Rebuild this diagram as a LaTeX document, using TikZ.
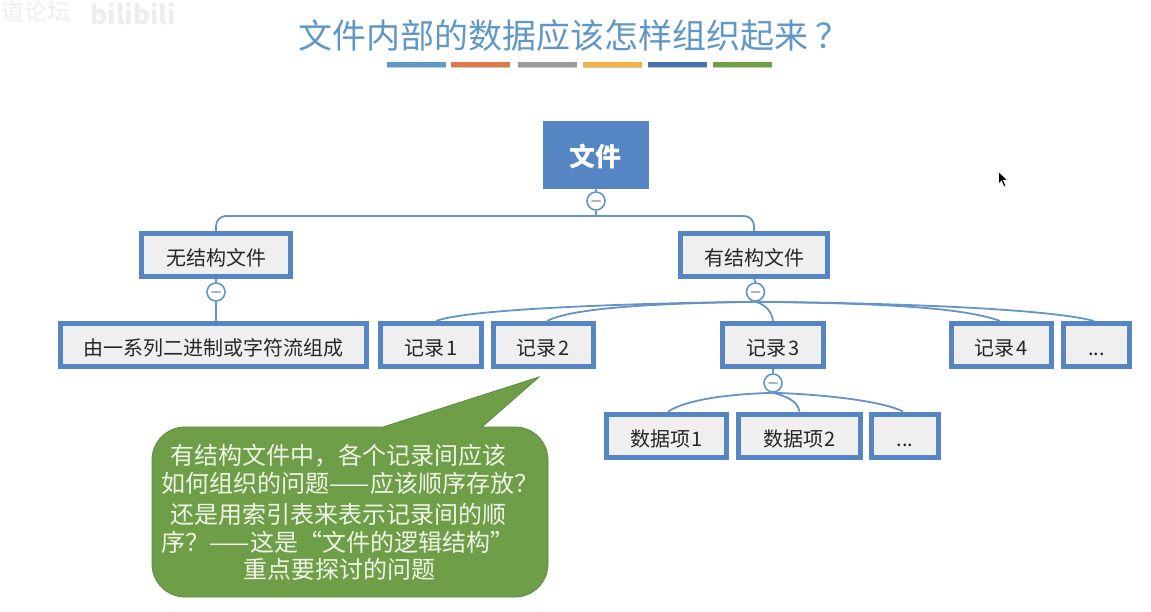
\documentclass[tikz,border=0pt]{standalone}
\usepackage{fontspec}
\setmainfont{Noto Sans CJK SC}
\usetikzlibrary{calc}
\definecolor{boxblue}{HTML}{5585C2}
\definecolor{linkblue}{HTML}{6394C8}
\definecolor{boxfill}{HTML}{EFEFEF}
\definecolor{titleblue}{HTML}{5F97C6}
\definecolor{calloutgreen}{HTML}{6F9E48}
\definecolor{calloutedge}{HTML}{5E8A3C}
\definecolor{calloutink}{HTML}{EFF5E6}
\definecolor{markgrey}{HTML}{A9B4C6}
\tikzset{
  rootbox/.style={rectangle,fill=boxblue,draw=boxblue,line width=0.5pt,minimum width=105pt,minimum height=67pt,inner sep=0pt,text=white,text height=25pt,text depth=0pt,font=\bfseries\fontsize{26}{30}\selectfont},
  itembox/.style={rectangle,fill=boxfill,draw=boxblue,line width=5pt,minimum height=43pt,inner sep=0pt,text=black!85,text height=21pt,text depth=0pt,font=\fontsize{20}{24}\selectfont},
  toggle/.style={circle,draw=linkblue,fill=white,line width=1.6pt,minimum size=18pt,inner sep=0pt,
    path picture={\draw[markgrey,line width=2pt,line cap=round] ([xshift=-4pt]path picture bounding box.center) -- ([xshift=4pt]path picture bounding box.center);}},
  link/.style={draw=linkblue,line width=1.8pt},
  calloutline/.style={inner sep=0pt,text=calloutink,font=\fontsize{24}{28}\selectfont},
  titlebar/.style={rectangle,minimum width=59pt,minimum height=5pt,inner sep=0pt},
  watermark/.style={inner sep=0pt,text=black!7},
}
\begin{document}
\begin{tikzpicture}[x=1pt,y=-1pt]
\useasboundingbox (0,0) rectangle (1151,612);
% watermark
\node[watermark,font=\fontsize{23}{26}\selectfont] (wm1) at (36,12) {道论坛};
\node[watermark,font=\bfseries\fontsize{26}{28}\selectfont] (wm2) at (133,14) {bilibili};
% title
\node[inner sep=0pt,text=titleblue,font=\fontsize{34}{38}\selectfont] (title) at (574,36) {文件内部的数据应该怎样组织起来\kern8pt？};
\foreach \n/\x/\c in {a/416.5/5B9BCB,b/480.5/DE7A45,c/547/9A9A9A,d/612/F2B143,e/677/4472B0,f/742.5/70A044}{
  \definecolor{barc}{HTML}{\c}
  \node[titlebar,fill=black!22] (bs\n) at (\x,66) {};
  \node[titlebar,fill=barc] (bar\n) at (\x,64.5) {};
}
% nodes
\node[rootbox] (root) at (595.5,154.5) {文件};
\node[itembox,minimum width=149pt] (unstr) at (216,255) {无结构文件};
\node[itembox,minimum width=147pt] (str) at (754,255) {有结构文件};
\node[itembox,minimum width=306pt] (stream) at (213.5,345) {由一系列二进制或字符流组成};
\node[itembox,minimum width=101pt] (r1) at (431,345) {记录\kern2pt 1};
\node[itembox,minimum width=100pt] (r2) at (543.5,345) {记录\kern2pt 2};
\node[itembox,minimum width=101pt] (r3) at (773,345) {记录\kern2pt 3};
\node[itembox,minimum width=100pt] (r4) at (1001.5,345) {记录\kern2pt 4};
\node[itembox,minimum width=66pt] (rx) at (1096.5,345) {...};
\node[itembox,minimum width=120pt] (d1) at (666.5,435.5) {数据项\kern1pt 1};
\node[itembox,minimum width=122pt] (d2) at (799.5,435.5) {数据项\kern1pt 2};
\node[itembox,minimum width=67pt] (dx) at (905,435.5) {...};
% toggles
\node[toggle] (t0) at (596,201) {};
\node[toggle] (t1) at (216,292) {};
\node[toggle] (t2) at (755.5,292) {};
\node[toggle] (t3) at (773,383) {};
% connectors
\draw[link] (root.south) -- (t0.north);
\draw[link,rounded corners=10pt] (unstr.north) -- (unstr.north |- 0,216) -- (str.north |- 0,216) -- (str.north);
\draw[link] (t0.south) -- (t0.south |- 0,216);
\draw[link] (unstr.south) -- (t1.north);
\draw[link] (t1.south) -- (stream.north -| t1.south);
\draw[link] (str.south) -- (t2.north);
\draw[link] (t2.south) .. controls (650,303) and (470,308) .. ($(r1.north)+(5,0)$);
\draw[link] (t2.south) .. controls (680,303) and (575,306) .. ($(r2.north)+(3.5,0)$);
\draw[link] (t2.south) .. controls (765,304) and (772,312) .. (r3.north);
\draw[link] (t2.south) .. controls (860,303) and (960,306) .. ($(r4.north)+(-1.5,0)$);
\draw[link] (t2.south) .. controls (900,303) and (1050,309) .. ($(rx.north)+(-2.5,0)$);
\draw[link] (r3.south) -- (t3.north);
\draw[link] (t3.south) .. controls (735,394) and (690,398) .. ($(d1.north)+(1.5,0)$);
\draw[link] (t3.south) .. controls (785,396) and (797,400) .. (d2.north);
\draw[link] (t3.south) .. controls (815,394) and (880,400) .. ($(dx.north)+(-2,0)$);
% callout
\coordinate (tip) at (539,377);
\fill[calloutgreen,draw=calloutedge,line width=0.8pt]
  (482,427) -- (515,427) arc[start angle=-90,end angle=0,radius=33] -- (548,564)
  arc[start angle=0,end angle=90,radius=33] -- (185,597)
  arc[start angle=90,end angle=180,radius=33] -- (152,460)
  arc[start angle=180,end angle=270,radius=33] -- (383,427) -- (tip) -- cycle;
\node[calloutline] (c1) at (338.5,456) {有结构文件中，各个记录间应该};
\node[calloutline] (c2) at (350,483) {如何组织的问题——应该顺序存放？};
\node[calloutline] (c3) at (338,514) {还是用索引表来表示记录间的顺};
\node[calloutline] (c4) at (338,542) {序？——这是“文件的逻辑结构”};
\node[calloutline] (c5) at (339.5,569) {重点要探讨的问题};
% pointer
\fill[black,draw=white,line width=0.6pt] (998.5,171.5) -- (998.5,184) -- (1001.5,181) -- (1004,187) -- (1006,186) -- (1003.5,180.5) -- (1007.5,180) -- cycle;
\end{tikzpicture}
\end{document}
